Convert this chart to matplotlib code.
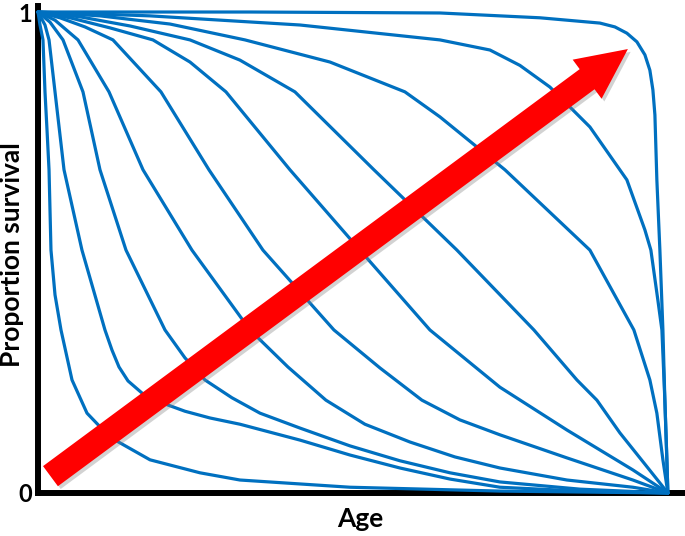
import numpy as np
import matplotlib.pyplot as plt
import matplotlib.patheffects as pe
from matplotlib.patches import FancyArrowPatch, ArrowStyle

# curvas de supervivencia (edad en % de la vida maxima, proporcion que sobrevive)
# de la curva mas baja (tipo III) a la mas alta (tipo I)
age_1 = [0, 0.32, 0.79, 1.11, 1.43, 1.75, 2.06, 2.70, 3.65, 5.40, 7.78, 11.43, 17.78, 25.71, 32.06, 49.52, 73.33, 100]
surv_1 = [1.0, 0.973, 0.942, 0.834, 0.755, 0.672, 0.505, 0.412, 0.339, 0.235, 0.166, 0.116, 0.069, 0.042, 0.027, 0.012, 0.004, 0]

age_2 = [0, 1.11, 1.75, 2.70, 4.13, 6.98, 10.63, 11.75, 12.86, 14.29, 16.67, 19.37, 23.33, 27.30, 32.06,
         41.59, 49.52, 57.46, 65.40, 73.33, 86.03, 100]
surv_2 = [1.0, 0.973, 0.942, 0.834, 0.672, 0.505, 0.339, 0.297, 0.262, 0.233, 0.206, 0.189, 0.170, 0.156, 0.143,
          0.110, 0.079, 0.052, 0.029, 0.012, 0.004, 0]

age_3 = [0, 1.90, 3.97, 7.14, 9.84, 13.97, 20.16, 23.33, 26.51, 30.79, 35.24, 41.59, 49.52, 57.46, 65.40, 73.33, 86.03, 100]
surv_3 = [1.0, 0.979, 0.942, 0.834, 0.672, 0.505, 0.339, 0.281, 0.235, 0.198, 0.166, 0.135, 0.098, 0.067, 0.042, 0.023, 0.008, 0]

age_4 = [0, 2.70, 6.35, 11.27, 16.67, 24.44, 33.65, 39.68, 45.71, 51.90, 59.05, 66.19, 73.33, 83.97, 94.44, 100]
surv_4 = [1.0, 0.983, 0.942, 0.834, 0.672, 0.505, 0.339, 0.262, 0.193, 0.143, 0.106, 0.075, 0.052, 0.027, 0.012, 0]

age_5 = [0, 3.49, 7.46, 11.90, 19.52, 27.14, 35.71, 46.98, 54.29, 60.95, 66.98, 73.33, 83.97, 94.44, 100]
surv_5 = [1.0, 0.988, 0.969, 0.942, 0.834, 0.672, 0.505, 0.339, 0.260, 0.193, 0.152, 0.121, 0.073, 0.027, 0]

age_6 = [0, 5.08, 11.43, 18.25, 24.13, 29.84, 40.0, 51.11, 62.22, 73.33, 83.97, 94.44, 100]
surv_6 = [1.0, 0.988, 0.967, 0.942, 0.896, 0.834, 0.672, 0.505, 0.339, 0.220, 0.131, 0.048, 0]

age_7 = [0, 6.67, 14.60, 24.13, 32.06, 40.79, 53.33, 66.51, 78.73, 85.56, 88.73, 92.38, 96.35, 100]
surv_7 = [1.0, 0.990, 0.971, 0.942, 0.900, 0.834, 0.672, 0.505, 0.339, 0.235, 0.193, 0.125, 0.060, 0]

age_8 = [0, 9.84, 20.95, 32.86, 46.35, 58.25, 63.81, 74.13, 87.62, 94.60, 97.14, 98.25, 99.21, 100]
surv_8 = [1.0, 0.992, 0.975, 0.942, 0.896, 0.834, 0.782, 0.672, 0.505, 0.339, 0.235, 0.166, 0.069, 0]

age_9 = [0, 17.78, 41.59, 63.81, 71.75, 76.51, 81.27, 87.62, 93.49, 96.35, 97.30, 98.41, 99.05, 99.52, 99.84, 100]
surv_9 = [1.0, 0.992, 0.973, 0.942, 0.921, 0.889, 0.844, 0.761, 0.651, 0.547, 0.505, 0.401, 0.339, 0.193, 0.069, 0]

age_10 = [0, 33.65, 63.81, 79.68, 89.21, 91.59, 93.49, 95.08, 96.35, 97.14, 97.62, 97.94, 98.25,
          98.73, 99.21, 99.52, 99.84, 100]
surv_10 = [1.0, 1.0, 0.998, 0.988, 0.977, 0.969, 0.956, 0.938, 0.911, 0.879, 0.838, 0.786, 0.651,
           0.505, 0.339, 0.193, 0.069, 0]

curvas = [(age_1, surv_1), (age_2, surv_2), (age_3, surv_3), (age_4, surv_4),
          (age_5, surv_5), (age_6, surv_6), (age_7, surv_7), (age_8, surv_8),
          (age_9, surv_9), (age_10, surv_10)]

azul = "#0070C0"

fig = plt.figure(figsize=(6.85, 5.36), dpi=100)
ax = fig.add_axes([38/685, 1 - 493/536, 645/685, 487/536])

for edad, superv in curvas:
    ax.plot(edad, superv, color=azul, lw=2.3, solid_joinstyle="round",
            solid_capstyle="round", clip_on=False, zorder=3)

ax.set_xlim(0, 102.4)
ax.set_ylim(0, 1.0125)

for lado in ["top", "right"]:
    ax.spines[lado].set_visible(False)
for lado in ["left", "bottom"]:
    ax.spines[lado].set_linewidth(4.3)
    ax.spines[lado].set_color("black")
    ax.spines[lado].set_capstyle("projecting")

ax.set_xticks([])
ax.set_yticks([0, 1])
ax.set_yticklabels(["0", "1"], fontsize=17, fontweight="bold", family="Lato")
ax.tick_params(axis="y", length=0, pad=4.5)

ax.set_xlabel("Age", fontsize=19, fontweight="bold", family="Lato")
ax.xaxis.set_label_coords(0.5, -0.029)
ax.set_ylabel("Proportion survival", fontsize=19, fontweight="bold", family="Lato")
ax.yaxis.set_label_coords(-0.021, 0.49)

# flecha roja con sombra
flecha = FancyArrowPatch((1.98, 0.035), (93.65, 0.923),
                         arrowstyle=ArrowStyle.Simple(head_length=36.5, head_width=35, tail_width=18),
                         mutation_scale=1, shrinkA=0, shrinkB=0,
                         color="#FF0000", lw=0, zorder=5)
flecha.set_path_effects([pe.SimplePatchShadow(offset=(2, -2), shadow_rgbFace="gray", alpha=0.35),
                         pe.Normal()])
ax.add_patch(flecha)

plt.savefig("out.png", dpi=100)
